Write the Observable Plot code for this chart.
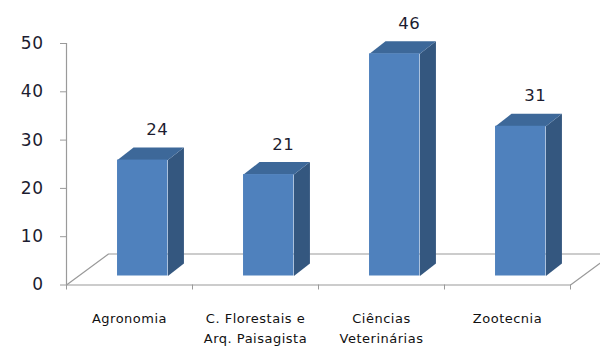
<!DOCTYPE html>
<html>
<head>
<meta charset="utf-8">
<script src="https://cdn.jsdelivr.net/npm/d3@7"></script>
<script src="https://cdn.jsdelivr.net/npm/@observablehq/plot@0.6"></script>
<style>
  html, body { margin: 0; padding: 0; background: #fff; overflow: hidden; }
  #chart svg text { letter-spacing: 0.5px; }
</style>
</head>
<body>
<div id="chart"></div>
<script>
// Number of students per course
const categories = ["Agronomia", "C. Florestais e\nArq. Paisagista", "Ciências\nVeterinárias", "Zootecnia"];
const values = [24, 21, 46, 31];
const yTicks = [0, 10, 20, 30, 40, 50];

// 3D look: oblique offsets expressed in data units
const pxX = 126;            // pixels per category
const pxY = 4.83;           // pixels per unit value
const floorDX = 42 / pxX, floorDY = 31 / pxY;   // depth of the floor
const baseY = 9 / pxY;                           // bars sit a little behind the front edge
const barX1 = 0.405, barX2 = 0.805;              // front face within each category
const depthDX = 16 / pxX, depthDY = 12.5 / pxY;  // bar depth

const rows = categories.map((c, i) => ({i, c, v: values[i]}));

const n = categories.length;
const floor = [
  {x: 0, y: 0}, {x: floorDX, y: floorDY}, {x: n + floorDX, y: floorDY}, {x: n, y: 0}
];

const sides = rows.flatMap(d => {
  const xr = d.i + barX2, b = baseY, t = baseY + d.v;
  return [
    {id: d.i, x: xr, y: b}, {id: d.i, x: xr, y: t},
    {id: d.i, x: xr + depthDX, y: t + depthDY}, {id: d.i, x: xr + depthDX, y: b + depthDY}
  ];
});
const tops = rows.flatMap(d => {
  const xl = d.i + barX1, xr = d.i + barX2, t = baseY + d.v;
  return [
    {id: d.i, x: xl, y: t}, {id: d.i, x: xr, y: t},
    {id: d.i, x: xr + depthDX, y: t + depthDY}, {id: d.i, x: xl + depthDX, y: t + depthDY}
  ];
});

const chart = Plot.plot({
  width: 600,
  height: 350,
  marginLeft: 66,
  marginRight: 30,
  marginTop: 43,
  marginBottom: 65.5,
  style: {fontFamily: "DejaVu Sans", background: "#fff", overflow: "hidden"},
  x: {type: "linear", domain: [0, n], axis: null},
  y: {domain: [0, 50], axis: null},
  marks: [
    // floor
    Plot.line(floor, {x: "x", y: "y", stroke: "#9a9a9a", strokeWidth: 1.2}),
    Plot.ruleY([0], {x1: 0, x2: n, stroke: "#9a9a9a", strokeWidth: 1.2}),
    // y axis line
    Plot.ruleX([0], {y1: 0, y2: 50, stroke: "#9a9a9a", strokeWidth: 1.2}),
    Plot.axisY(yTicks, {label: null, tickSize: 6, tickPadding: 17, fontSize: 17, stroke: "#9a9a9a", fill: "#1c1c30"}),
    Plot.axisX(d3.range(n + 1), {label: null, tickSize: 5, tickFormat: () => "", stroke: "#9a9a9a"}),
    // bars: side, top and front faces
    Plot.line(sides, {x: "x", y: "y", z: "id", fill: "#34577f", stroke: "none", curve: "linear-closed"}),
    Plot.line(tops, {x: "x", y: "y", z: "id", fill: "#3d6899", stroke: "none", curve: "linear-closed"}),
    Plot.rect(rows, {x1: d => d.i + barX1, x2: d => d.i + barX2, y1: () => baseY, y2: d => baseY + d.v, fill: "#4f81bd"}),
    // value labels
    Plot.text(rows, {x: d => d.i + 0.72, y: d => baseY + d.v, text: d => String(d.v), dy: -25, lineAnchor: "bottom", fontSize: 16.5, fill: "#1c1c30"}),
    // category labels
    Plot.text(rows, {x: d => d.i + 0.5, y: () => 0, text: "c", dy: 24, lineAnchor: "top", lineHeight: 1.55, fontSize: 13, fill: "#111"})
  ]
});

document.getElementById("chart").append(chart);
</script>
</body>
</html>
